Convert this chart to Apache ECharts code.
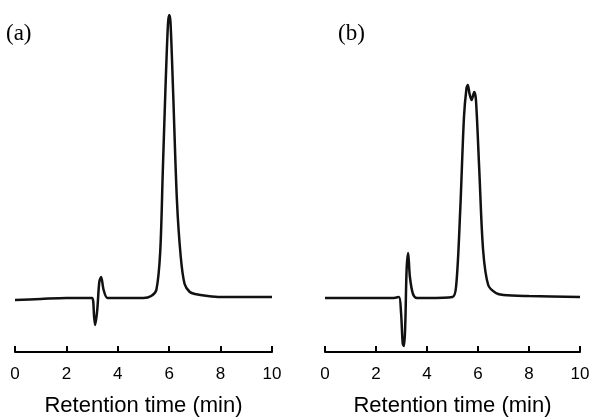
<!DOCTYPE html>
<html>
<head>
<meta charset="UTF-8">
<script src="https://cdn.jsdelivr.net/npm/echarts@6/dist/echarts.min.js"></script>
<style>body{margin:0}#c{width:597px;height:418px}</style>
</head>
<body>
<div id="c"></div>
<script>
// chromatogram (a): [time min, signal]
var traceA = [[0,52],[1,53],[2,54],[2.8,54],[3.0,54],[3.08,35],[3.12,27],[3.2,42],[3.28,70],[3.35,75],[3.45,62],[3.6,54],[4,54],[5,54],[5.3,56],[5.5,62],[5.65,100],[5.75,180],[5.85,260],[5.95,327],[6.0,337],[6.05,330],[6.15,262],[6.3,152],[6.45,95],[6.6,68],[6.8,60],[7.0,58],[7.5,56],[8,55],[9,55],[10,55]];
// chromatogram (b)
var traceB = [[0,54],[1,54],[2,54],[2.7,54],[2.9,55],[2.98,40],[3.05,8],[3.1,6],[3.15,30],[3.2,82],[3.26,99],[3.33,75],[3.45,58],[3.6,54],[4,54],[5,55],[5.15,68],[5.3,140],[5.45,235],[5.55,264],[5.6,267],[5.67,258],[5.75,252],[5.85,260],[5.92,252],[6.05,182],[6.2,102],[6.4,67],[6.7,59],[7,57],[8,56],[10,55]];
var ticks = [0,2,4,6,8,10];

var chart = echarts.init(document.getElementById('c'));
function xAx(i){
    return {
        gridIndex: i, type: 'value', min: 0, max: 10, interval: 2,
        name: 'Retention time (min)', nameLocation: 'middle', nameGap: 43,
        nameTextStyle: {fontFamily: 'Liberation Sans', fontSize: 22, color: '#000'},
        axisLine: {lineStyle: {color: '#000', width: 2}},
        axisTick: {inside: true, length: 6, lineStyle: {color: '#000', width: 2}},
        axisLabel: {fontFamily: 'Liberation Sans', fontSize: 17, color: '#000', margin: 14},
        splitLine: {show: false}
    };
}
function yAx(i){
    return {gridIndex: i, type: 'value', min: 0, max: 337, show: false};
}
function ser(i, d){
    return {type: 'line', xAxisIndex: i, yAxisIndex: i, data: d, smooth: 0.3,
        showSymbol: false, lineStyle: {color: '#111', width: 2.5}};
}
chart.setOption({
    animation: false,
    grid: [
        {left: 15, width: 257, top: 15, bottom: 66, outerBoundsMode: 'none'},
        {left: 325, width: 255, top: 15, bottom: 66, outerBoundsMode: 'none'}
    ],
    xAxis: [xAx(0), xAx(1)],
    yAxis: [yAx(0), yAx(1)],
    series: [ser(0, traceA), ser(1, traceB)],
    graphic: [
        {type: 'text', left: 6, top: 22, style: {text: '(a)', font: '23px "Liberation Serif"', fill: '#000'}},
        {type: 'text', left: 338, top: 22, style: {text: '(b)', font: '23px "Liberation Serif"', fill: '#000'}}
    ]
});
</script>
</body>
</html>
